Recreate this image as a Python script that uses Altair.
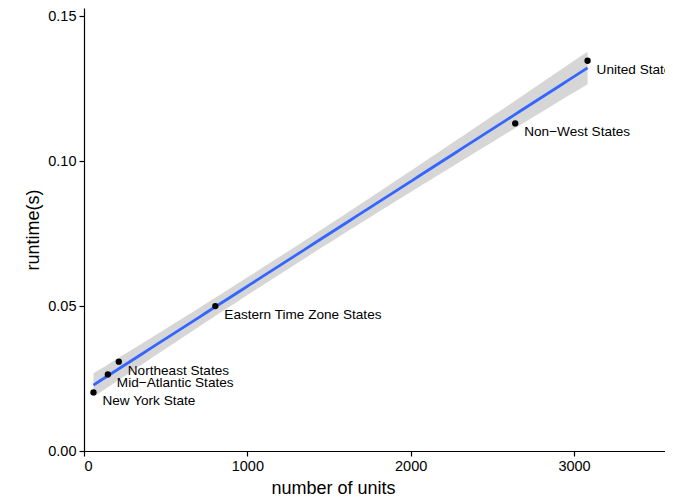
import altair as alt
import numpy as np
import pandas as pd

regions = ["New York State", "Mid\u2212Atlantic States", "Northeast States",
           "Eastern Time Zone States", "Non\u2212West States", "United States"]
units = [58, 146, 213, 804, 2640, 3083]
runtime = [0.0202, 0.0264, 0.0308, 0.0500, 0.1130, 0.1346]

x_ticks = [0, 1000, 2000, 3000]
y_ticks = [0.00, 0.05, 0.10, 0.15]

df = pd.DataFrame({"region": regions, "units": units, "runtime": runtime})

# linear fit with 95% confidence band (as geom_smooth(method="lm"))
xa = np.array(units, dtype=float)
ya = np.array(runtime, dtype=float)
n = len(xa)
b1, b0 = np.polyfit(xa, ya, 1)
resid = ya - (b0 + b1 * xa)
s = np.sqrt(np.sum(resid ** 2) / (n - 2))
sxx = np.sum((xa - xa.mean()) ** 2)
t_crit = 2.776  # t(0.975, df=4)
grid = np.linspace(xa.min(), xa.max(), 80)
fit = b0 + b1 * grid
se = s * np.sqrt(1.0 / n + (grid - xa.mean()) ** 2 / sxx)
band = pd.DataFrame({"units": grid, "fit": fit, "lo": fit - t_crit * se, "hi": fit + t_crit * se})

W, H = 581, 443
xscale = alt.Scale(domain=[0, 3557], nice=False, zero=False)
yscale = alt.Scale(domain=[0, 0.1528], nice=False, zero=False)

xaxis = alt.Axis(title="number of units", values=x_ticks, format="d", grid=False,
                 titleX=249, titleY=42, titleBaseline="alphabetic", titleAnchor="start",
                 titleAlign="center")
yaxis = alt.Axis(title="runtime(s)", values=y_ticks, format=".2f", grid=False,
                 titlePadding=5)

ribbon = alt.Chart(band).mark_area(color="#999999", opacity=0.4).encode(
    x=alt.X("units:Q", scale=xscale, axis=xaxis),
    y=alt.Y("lo:Q", scale=yscale, axis=yaxis),
    y2="hi:Q",
)

line = alt.Chart(band).mark_line(color="#3366FF", strokeWidth=2.8).encode(
    x=alt.X("units:Q", scale=xscale),
    y=alt.Y("fit:Q", scale=yscale),
)

pts = alt.Chart(df).mark_circle(color="black", opacity=1, size=40).encode(
    x=alt.X("units:Q", scale=xscale),
    y=alt.Y("runtime:Q", scale=yscale),
)

labels = alt.Chart(df).mark_text(align="left", baseline="alphabetic", dx=9, dy=13,
                                 fontSize=13.6, font="Liberation Sans", color="black").encode(
    x=alt.X("units:Q", scale=xscale),
    y=alt.Y("runtime:Q", scale=yscale),
    text="region:N",
)

chart = alt.layer(ribbon, line, pts, labels).properties(
    width=W, height=H,
    autosize=alt.AutoSizeParams(type="none"),
    padding={"left": 76, "top": 0, "right": 0, "bottom": 45},
).configure_view(stroke=None).configure_axis(
    domainColor="black", domainWidth=1.2, tickColor="black", tickWidth=1.2, tickSize=5,
    labelColor="black", labelFont="Liberation Sans", labelFontSize=14.5,
    titleFont="Liberation Sans", titleFontSize=18, titleFontWeight="normal", titleColor="black",
    labelPadding=3,
)

chart.save("out.html", embed_options={"renderer": "svg", "actions": False})
